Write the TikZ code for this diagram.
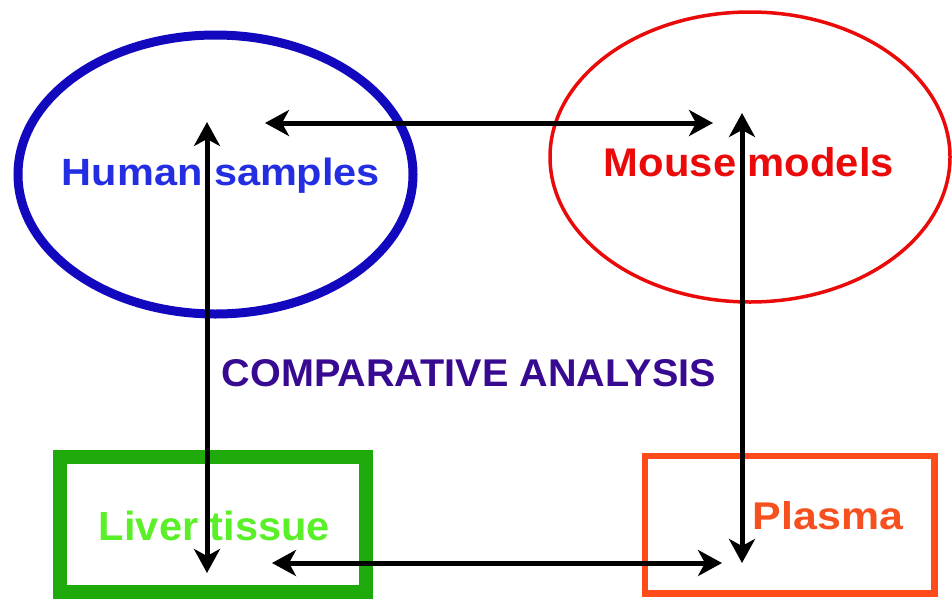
\documentclass[tikz,border=0pt]{standalone}
\usepackage{fontspec}
\usepackage{graphicx}
\setmainfont{Liberation Sans}
\usetikzlibrary{shapes.geometric,arrows.meta}
\definecolor{hblue}{RGB}{18,8,190}
\definecolor{htext}{RGB}{35,45,225}
\definecolor{mred}{RGB}{235,10,10}
\definecolor{cpurple}{RGB}{55,10,145}
\definecolor{lgreen}{RGB}{30,170,10}
\definecolor{ltext}{RGB}{90,240,40}
\definecolor{porange}{RGB}{255,75,25}
\definecolor{ptext}{RGB}{245,80,30}
\newcommand{\fitlbl}[3]{\resizebox{#1pt}{#2pt}{\bfseries #3}}
\tikzset{
  oval/.style={ellipse, draw, inner sep=0pt},
  boxnode/.style={rectangle, draw, inner sep=0pt},
  lbl/.style={anchor=base, inner sep=0pt},
  link/.style={line width=5pt, {Stealth[length=24pt,width=26pt,inset=7pt]}-{Stealth[length=24pt,width=26pt,inset=7pt]}}
}
\begin{document}
\begin{tikzpicture}[x=1pt,y=-1pt]
\useasboundingbox (0,0) rectangle (952,600);
\fill[white] (0,0) rectangle (952,600);

\node[oval, draw=hblue, line width=9pt, minimum width=395pt, minimum height=279pt] (human) at (215.5,174.5) {};
\node[oval, draw=mred, line width=3.5pt, minimum width=400pt, minimum height=290pt] (mouse) at (750,157) {};
\node[boxnode, draw=lgreen, line width=14pt, minimum width=306pt, minimum height=135pt] (liver) at (212.9,524.5) {};
\node[boxnode, draw=porange, line width=6.5pt, minimum width=289.5pt, minimum height=137.5pt] (plasma) at (789.75,524.75) {};

\node[lbl, text=htext] (humanlbl) at (221,185) {\fitlbl{318}{27.5}{Human samples}};
\node[lbl, text=mred] (mouselbl) at (749,176) {\fitlbl{290}{29}{Mouse models}};
\node[lbl, text=cpurple] (complbl) at (469,386) {\fitlbl{494}{27}{COMPARATIVE ANALYSIS}};
\node[lbl, text=ltext] (liverlbl) at (214.5,540) {\fitlbl{231}{29.5}{Liver tissue}};
\node[lbl, text=ptext] (plasmalbl) at (828,529) {\fitlbl{150}{28}{Plasma}};

\coordinate (hR) at (265,123);
\coordinate (mL) at (713,123);
\coordinate (hD) at (207,122);
\coordinate (lU) at (207,573);
\coordinate (mD) at (742,113);
\coordinate (pU) at (742,563);
\coordinate (lR) at (272,563);
\coordinate (pL) at (722,563);

\draw[link] (hR) -- (mL);
\draw[link] (hD) -- (lU);
\draw[link] (mD) -- (pU);
\draw[link] (lR) -- (pL);
\end{tikzpicture}
\end{document}
